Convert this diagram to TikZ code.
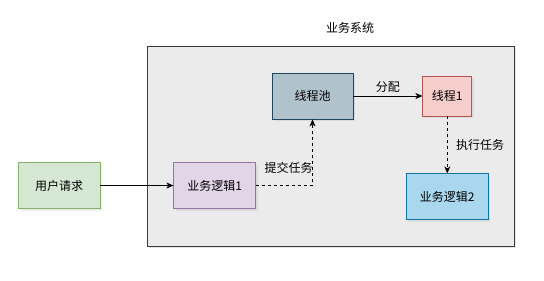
\documentclass[tikz,border=0pt]{standalone}
\usepackage{fontspec}
\setmainfont{Noto Sans CJK SC}
\usetikzlibrary{positioning,arrows.meta,shadows}

\definecolor{sysfill}{HTML}{EBEBEB}
\definecolor{sysline}{HTML}{36393D}
\definecolor{reqfill}{HTML}{D5E8D4}
\definecolor{reqline}{HTML}{82B366}
\definecolor{logicfill}{HTML}{E1D5E7}
\definecolor{logicline}{HTML}{9673A6}
\definecolor{poolfill}{HTML}{B0C3CC}
\definecolor{poolline}{HTML}{23445D}
\definecolor{threadfill}{HTML}{F8CECC}
\definecolor{threadline}{HTML}{B85450}
\definecolor{taskfill}{HTML}{A9D8EE}
\definecolor{taskline}{HTML}{10739E}

\begin{document}
\begin{tikzpicture}[
    x=1pt, y=-1pt,
    font=\fontsize{12}{14}\selectfont,
    box/.style={rectangle, draw, align=center, minimum width=82pt, minimum height=46pt, line width=0.8pt,
        drop shadow={opacity=0.15, shadow xshift=2pt, shadow yshift=-2pt}},
    line/.style={line width=0.8pt, -{Stealth[length=7pt, width=6pt, inset=2pt]}},
    dashline/.style={line, dash pattern=on 3pt off 3pt}
]
\useasboundingbox (0,0) rectangle (544,281);

% Container
\node[rectangle, draw=sysline, fill=sysfill, line width=0.8pt, minimum width=367pt, minimum height=200pt,
    drop shadow={opacity=0.2, shadow xshift=2pt, shadow yshift=-2pt}] (sys) at (330.5,146) {};
\node (systitle) at (350,28) {业务系统};

% Boxes
\node[box, fill=reqfill, draw=reqline] (req) at (59,185.5) {用户请求};
\node[box, fill=logicfill, draw=logicline, right=73pt of req] (logic1) {业务逻辑1};
\node[box, fill=poolfill, draw=poolline, minimum width=81pt] (pool) at (312.5,96) {线程池};
\node[box, fill=threadfill, draw=threadline, minimum width=49pt, minimum height=40pt, right=69pt of pool] (thread) {线程1};
\node[box, fill=taskfill, draw=taskline, below=57pt of thread] (logic2) {业务逻辑2};

% Connectors
\draw[line] (req) -- (logic1);
\draw[dashline] (logic1) -| (pool) node[pos=0.5, xshift=-24pt, yshift=18pt] {提交任务};
\draw[line] (pool) -- (thread) node[midway, above] {分配};
\draw[dashline] (thread) -- (logic2) node[midway, right=5pt] {执行任务};

\end{tikzpicture}
\end{document}
